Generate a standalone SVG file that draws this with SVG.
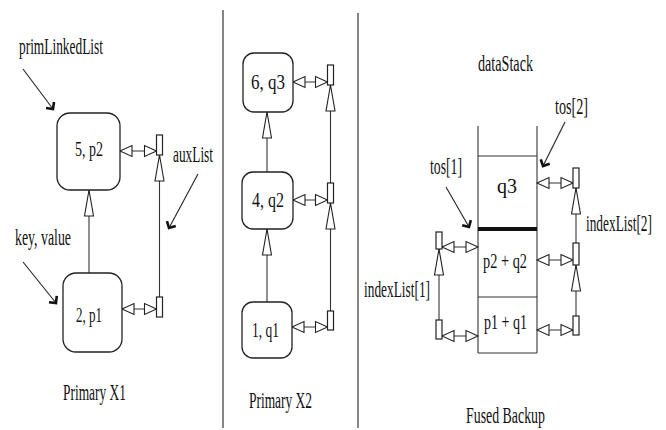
<svg xmlns="http://www.w3.org/2000/svg" width="666" height="430" viewBox="0 0 666 430">
<defs>
<style>
text{font-family:"Liberation Serif","Times New Roman",serif;fill:#111}
.lbl{font-size:23px}
.nt{font-size:20px}
.node{fill:#fff;stroke:#222;stroke-width:1.3}
.cell{fill:#fff;stroke:#222;stroke-width:1.2}
.ln{fill:none;stroke:#333;stroke-width:1.1}
.dbl{fill:none;stroke:#333;stroke-width:1.1;marker-start:url(#tri);marker-end:url(#tri)}
.up{fill:none;stroke:#333;stroke-width:1.1;marker-end:url(#trilong)}
.ptr{fill:none;stroke:#222;stroke-width:1.1;marker-end:url(#barb)}
.div{stroke:#444;stroke-width:1.3}
</style>
<marker id="tri" markerUnits="userSpaceOnUse" orient="auto-start-reverse" refX="0" refY="0" markerWidth="1" markerHeight="1" overflow="visible">
<path d="M0,0 L-12,-5.5 L-12,5.5 Z" fill="#fff" stroke="#222" stroke-width="1.1"/>
</marker>
<marker id="trilong" markerUnits="userSpaceOnUse" orient="auto" refX="0" refY="0" markerWidth="1" markerHeight="1" overflow="visible">
<path d="M0,0 L-26,-4.5 L-26,4.5 Z" fill="#fff" stroke="#222" stroke-width="1.1"/>
</marker>
<marker id="barb" markerUnits="userSpaceOnUse" orient="auto" refX="0" refY="0" markerWidth="1" markerHeight="1" overflow="visible">
<path d="M-5,-5 L0,0 L-5,5" fill="none" stroke="#111" stroke-width="2.6"/>
</marker>
</defs>
<rect width="666" height="430" fill="#fff"/>

<g id="dividers">
<line class="div" x1="223" y1="10" x2="223" y2="428"/>
<line class="div" x1="358" y1="13" x2="358" y2="428"/>
</g>

<g id="connectors">
<line class="up" x1="89" y1="273" x2="89" y2="190"/>
<line class="up" x1="159.5" y1="297" x2="159.5" y2="155"/>
<line class="dbl" x1="120" y1="151" x2="156.5" y2="151"/>
<line class="dbl" x1="122" y1="309" x2="156.5" y2="309"/>
<line class="ptr" x1="23" y1="69" x2="53" y2="109"/>
<line class="ptr" x1="23" y1="262" x2="56" y2="303"/>
<line class="ptr" x1="198" y1="174" x2="169" y2="228"/>
<line class="up" x1="267" y1="172" x2="267" y2="112"/>
<line class="up" x1="267" y1="302" x2="267" y2="229"/>
<line class="up" x1="330.5" y1="183" x2="330.5" y2="85"/>
<line class="up" x1="330.5" y1="311" x2="330.5" y2="203"/>
<line class="dbl" x1="293" y1="82" x2="327.5" y2="82"/>
<line class="dbl" x1="293" y1="200" x2="327.5" y2="200"/>
<line class="dbl" x1="292" y1="327" x2="327.5" y2="327"/>
<line class="up" x1="439" y1="320" x2="439" y2="249"/>
<line class="up" x1="576" y1="243" x2="576" y2="188"/>
<line class="up" x1="576" y1="316" x2="576" y2="265"/>
<line class="dbl" x1="442" y1="247" x2="478" y2="247"/>
<line class="dbl" x1="442" y1="336" x2="478" y2="336"/>
<line class="dbl" x1="537" y1="183" x2="573" y2="183"/>
<line class="dbl" x1="537" y1="260" x2="573" y2="260"/>
<line class="dbl" x1="537" y1="330" x2="573" y2="330"/>
<line class="ptr" x1="565" y1="122" x2="543" y2="166"/>
<line class="ptr" x1="446" y1="187" x2="469" y2="227"/>
</g>

<g id="node-5p2"><rect class="node" x="57" y="113" width="63" height="77" rx="13"/><text class="nt" x="75" y="156" textLength="28" lengthAdjust="spacingAndGlyphs">5, p2</text></g>
<g id="node-2p1"><rect class="node" x="63" y="273" width="59" height="79" rx="13"/><text class="nt" x="76" y="322" textLength="26" lengthAdjust="spacingAndGlyphs">2, p1</text></g>
<g id="aux-top"><rect class="cell" x="156.5" y="135" width="6" height="20"/></g>
<g id="aux-bottom"><rect class="cell" x="156.5" y="297" width="6" height="20"/></g>

<g id="node-6q3"><rect class="node" x="243" y="53" width="50" height="59" rx="11"/><text class="nt" x="251" y="89" textLength="34" lengthAdjust="spacingAndGlyphs">6, q3</text></g>
<g id="node-4q2"><rect class="node" x="242" y="172" width="51" height="57" rx="11"/><text class="nt" x="252" y="207" textLength="32" lengthAdjust="spacingAndGlyphs">4, q2</text></g>
<g id="node-1q1"><rect class="node" x="242" y="302" width="50" height="56" rx="11"/><text class="nt" x="252" y="337" textLength="27" lengthAdjust="spacingAndGlyphs">1, q1</text></g>
<g id="aux2-a"><rect class="cell" x="327.5" y="65" width="6" height="20"/></g>
<g id="aux2-b"><rect class="cell" x="327.5" y="183" width="6" height="20"/></g>
<g id="aux2-c"><rect class="cell" x="327.5" y="311" width="6" height="19"/></g>

<g id="dataStack">
<line class="ln" x1="478" y1="126" x2="478" y2="353" stroke-width="1.2"/>
<line class="ln" x1="537" y1="126" x2="537" y2="353" stroke-width="1.2"/>
<line class="ln" x1="478" y1="156" x2="537" y2="156"/>
<line x1="478" y1="229" x2="537" y2="229" stroke="#111" stroke-width="4"/>
<line class="ln" x1="478" y1="297" x2="537" y2="297"/>
<line class="ln" x1="478" y1="353" x2="537" y2="353"/>
</g>
<g id="cell-q3"><text class="nt" x="497" y="193" textLength="20" lengthAdjust="spacingAndGlyphs">q3</text></g>
<g id="cell-p2q2"><text class="nt" x="483" y="268" textLength="44" lengthAdjust="spacingAndGlyphs">p2 + q2</text></g>
<g id="cell-p1q1"><text class="nt" x="484" y="329" textLength="43" lengthAdjust="spacingAndGlyphs">p1 + q1</text></g>
<g id="idx1-top"><rect class="cell" x="436" y="232" width="6" height="17"/></g>
<g id="idx1-bottom"><rect class="cell" x="436" y="320" width="6" height="19"/></g>
<g id="idx2-top"><rect class="cell" x="573" y="168" width="6" height="20"/></g>
<g id="idx2-mid"><rect class="cell" x="573" y="243" width="6" height="22"/></g>
<g id="idx2-bottom"><rect class="cell" x="573" y="316" width="6" height="19"/></g>

<g id="labels">
<text class="lbl" x="19" y="54" textLength="84" lengthAdjust="spacingAndGlyphs">primLinkedList</text>
<text class="lbl" x="173" y="162" textLength="40" lengthAdjust="spacingAndGlyphs">auxList</text>
<text class="lbl" x="15" y="245" textLength="56" lengthAdjust="spacingAndGlyphs">key, value</text>
<text class="lbl" x="63" y="400" textLength="63" lengthAdjust="spacingAndGlyphs">Primary X1</text>
<text class="lbl" x="249" y="408" textLength="63" lengthAdjust="spacingAndGlyphs">Primary X2</text>
<text class="lbl" x="478" y="71" textLength="55" lengthAdjust="spacingAndGlyphs">dataStack</text>
<text class="lbl" x="555" y="114" textLength="33" lengthAdjust="spacingAndGlyphs">tos[2]</text>
<text class="lbl" x="430" y="174" textLength="32" lengthAdjust="spacingAndGlyphs">tos[1]</text>
<text class="lbl" transform="translate(586,231) scale(0.58,1)" x="0" y="0">indexList[2]</text>
<text class="lbl" x="364" y="297" textLength="66" lengthAdjust="spacingAndGlyphs">indexList[1]</text>
<text class="lbl" x="466" y="423" textLength="79" lengthAdjust="spacingAndGlyphs">Fused Backup</text>
</g>
</svg>
